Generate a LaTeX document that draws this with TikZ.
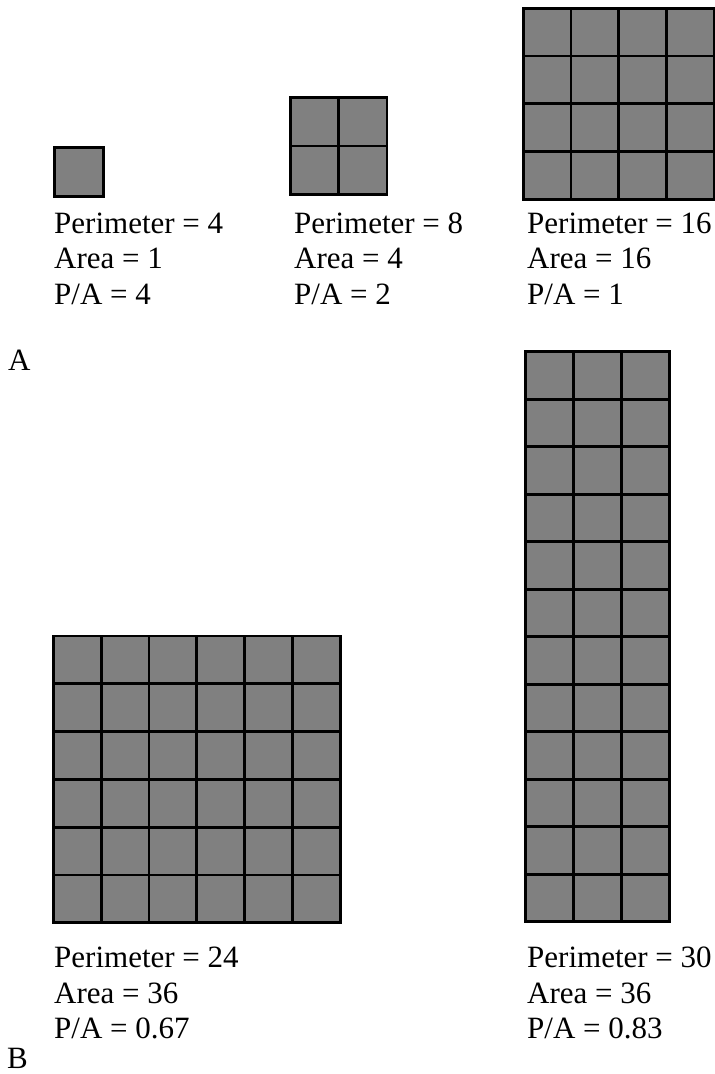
\documentclass[tikz,border=0pt]{standalone}
\usepackage{fontspec}
\setmainfont{Liberation Serif}
\begin{document}
\begin{tikzpicture}[x=1pt, y=-1pt,
    cellbox/.style={draw=black, fill=black!50, line width=2.8pt},
    lbl/.style={anchor=base west, inner sep=0pt, align=left, font=\fontsize{31}{35.3}\selectfont}]
  \useasboundingbox (0,0) rectangle (715,1074);
  % part A
  \draw[cellbox] (54.5,147.7) rectangle ++(49,49);
  \foreach \i in {0,1} \foreach \j in {0,1}
    \draw[cellbox] ({290.3+48.3*\i},{97.7+48.3*\j}) rectangle ++(48.3,48.3);
  \foreach \i in {0,...,3} \foreach \j in {0,...,3}
    \draw[cellbox] ({523.3+47.7*\i},{8.3+47.7*\j}) rectangle ++(47.7,47.7);
  \node[lbl] (sq1) at (54,304) {Perimeter = 4\\Area = 1\\P/A = 4};
  \node[lbl] (sq2) at (294,304) {Perimeter = 8\\Area = 4\\P/A = 2};
  \node[lbl] (sq4) at (527,304) {Perimeter = 16\\Area = 16\\P/A = 1};
  \node[lbl] (partA) at (8,370.7) {A};
  % part B
  \foreach \i in {0,...,5} \foreach \j in {0,...,5}
    \draw[cellbox] ({53.3+47.8*\i},{636+47.8*\j}) rectangle ++(47.8,47.8);
  \foreach \i in {0,...,2} \foreach \j in {0,...,11}
    \draw[cellbox] ({525.7+47.87*\i},{351.7+47.5*\j}) rectangle ++(47.87,47.5);
  \node[lbl] (sq6) at (54,1038.5) {Perimeter = 24\\Area = 36\\P/A = 0.67};
  \node[lbl] (rect3) at (527,1038.5) {Perimeter = 30\\Area = 36\\P/A = 0.83};
  \node[lbl] (partB) at (7,1068) {B};
\end{tikzpicture}
\end{document}
